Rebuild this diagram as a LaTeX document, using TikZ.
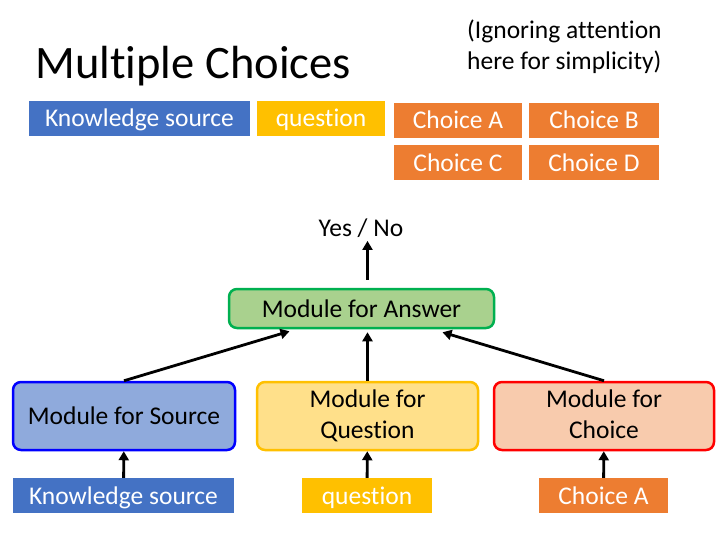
\documentclass[tikz,border=0pt]{standalone}
\usepackage{fontspec}
\setmainfont{Carlito}[Ligatures=NoCommon]
\usepackage[HTML]{xcolor}
\usetikzlibrary{positioning, arrows.meta, calc}

\definecolor{ksblue}{HTML}{4472C4}
\definecolor{qyellow}{HTML}{FFC000}
\definecolor{chorange}{HTML}{ED7D31}
\definecolor{ansdraw}{HTML}{00B050}
\definecolor{ansfill}{HTML}{A9D18E}
\definecolor{srcdraw}{HTML}{0000FF}
\definecolor{srcfill}{HTML}{8FAADC}
\definecolor{qfill}{HTML}{FFE08A}
\definecolor{chdraw}{HTML}{FF0000}
\definecolor{chfill}{HTML}{F8CBAD}

\begin{document}
\begin{tikzpicture}[x=1pt, y=-1pt,
  every node/.style={font=\fontsize{25.5}{30.5}\selectfont},
  tag/.style={rectangle, text=white, minimum height=35pt, inner sep=0pt, text height=17pt, text depth=0pt},
  module/.style={rectangle, rounded corners=8pt, line width=2.5pt, align=center, inner sep=0pt},
  arr/.style={-{Triangle[width=10pt, length=9pt]}, line width=2.8pt}]
\useasboundingbox (0,0) rectangle (723,542);
\node[anchor=west, font=\fontsize{46.5}{50}\selectfont] (title) at (32,66) {Multiple Choices};
\node[anchor=north west, align=left, inner sep=0pt] (note) at (467,20) {(Ignoring attention\\here for simplicity)};
% top row
\node[tag, fill=ksblue, minimum width=221pt] (ks) at (139.5,118) {Knowledge source};
\node[tag, fill=qyellow, minimum width=128pt] (q) at (321,118) {question};
\node[tag, fill=chorange, minimum width=128pt] (ca) at (458,120) {Choice A};
\node[tag, fill=chorange, minimum width=130pt] (cb) at (594,120) {Choice B};
\node[tag, fill=chorange, minimum width=128pt] (cc) at (458,162.5) {Choice C};
\node[tag, fill=chorange, minimum width=130pt] (cd) at (594,162.5) {Choice D};
% diagram
\node (yn) at (361,228) {Yes / No};
\node[module, draw=ansdraw, fill=ansfill, minimum width=265pt, minimum height=39pt] (ans) at (361.5,308.5) {Module for Answer};
\node[module, draw=srcdraw, fill=srcfill, minimum width=222pt, minimum height=68pt] (msrc) at (124,416) {Module for Source};
\node[module, draw=qyellow, fill=qfill, minimum width=221pt, minimum height=68pt, text depth=4pt] (mq) at (367.5,416) {Module for\\Question};
\node[module, draw=chdraw, fill=chfill, minimum width=220pt, minimum height=68pt, text depth=4pt] (mch) at (604,416) {Module for\\Choice};
\node[tag, fill=ksblue, minimum width=221pt] (ks2) at (123.5,495.5) {Knowledge source};
\node[tag, fill=qyellow, minimum width=130pt] (q2) at (367,495.5) {question};
\node[tag, fill=chorange, minimum width=129pt] (ca2) at (603.5,495.5) {Choice A};
\draw[arr] (ks2) -- (msrc);
\draw[arr] (q2) -- (mq);
\draw[arr] (ca2) -- (mch);
\draw[arr] (msrc.north) -- ($(ans.south)+(-72,2)$);
\draw[arr] (mq.north) -- ($(mq.north |- ans.south)+(0,3)$);
\draw[arr] (mch.north) -- ($(ans.south)+(81,3)$);
\draw[arr, shorten <=8pt] (ans.north -| mq.north) -- (yn.south -| mq.north);
\end{tikzpicture}
\end{document}
